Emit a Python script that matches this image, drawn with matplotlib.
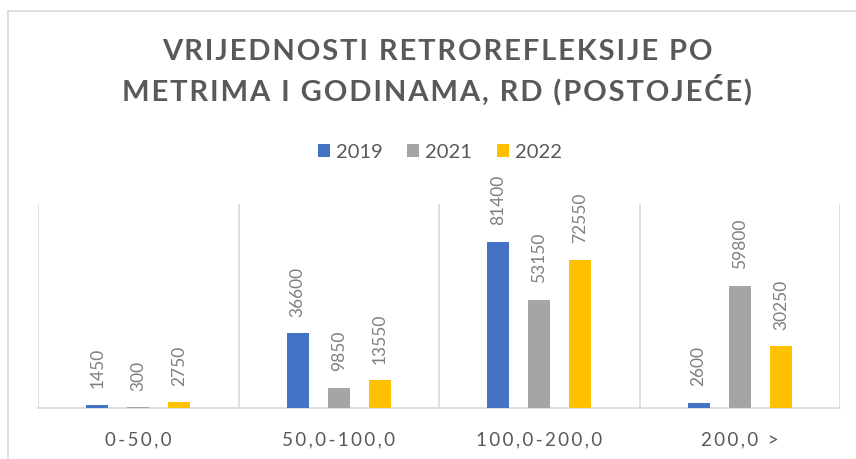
import matplotlib
matplotlib.use("Agg")
import matplotlib.pyplot as plt
import numpy as np
from matplotlib.patches import Rectangle

categories = ["0-50,0", "50,0-100,0", "100,0-200,0", "200,0 >"]
series_names = ["2019", "2021", "2022"]
values_2019 = [1450, 36600, 81400, 2600]
values_2021 = [300, 9850, 53150, 59800]
values_2022 = [2750, 13550, 72550, 30250]
title_lines = ["VRIJEDNOSTI RETROREFLEKSIJE PO", "METRIMA I GODINAMA, RD (POSTOJEĆE)"]

colors = ["#4472C4", "#A5A5A5", "#FFC000"]
text_gray = "#595959"
label_gray = "#7F7F7F"
grid_gray = "#D9D9D9"
fam = ["Lato", "DejaVu Sans"]


def spaced(s, sep="\u200a"):
    # widen tracking by placing a hair space between characters
    return sep.join(s)


W, H = 856, 459
fig = plt.figure(figsize=(W / 100, H / 100), dpi=100)

# chart-area frame
fig.patches.append(Rectangle((8 / W, -0.1), 1.2, 1 - 11 / H + 0.1,
                             transform=fig.transFigure, fill=False,
                             edgecolor=grid_gray, linewidth=1.2))

ax = fig.add_axes([38 / W, (H - 408) / H, (840 - 38) / W, (408 - 204) / H])

x = np.arange(len(categories))
bw = 0.11
step = 0.205
series = [values_2019, values_2021, values_2022]
bars = []
for i, (vals, c, name) in enumerate(zip(series, colors, series_names)):
    b = ax.bar(x + (i - 1) * step, vals, width=bw, color=c, label=name, zorder=3)
    bars.append(b)
    for xi, v in zip(x + (i - 1) * step, vals):
        ax.annotate(str(v), (xi, v), xytext=(0, 12), textcoords="offset points",
                    rotation=90, ha="center", va="bottom", color=label_gray,
                    fontsize=12.5, family=fam)

ax.set_xlim(-0.5, len(categories) - 0.5)
ax.set_ylim(0, 100000)
for b in np.arange(len(categories) + 1) - 0.5:
    ax.axvline(b, color=grid_gray, linewidth=1.2, zorder=1)
for s in ["top", "left", "right"]:
    ax.spines[s].set_visible(False)
ax.spines["bottom"].set_color(grid_gray)
ax.spines["bottom"].set_linewidth(1.2)
ax.set_yticks([])
ax.set_xticks(x)
ax.set_xticklabels([spaced(c, "\u2009") for c in categories], color=text_gray,
                   fontsize=13.5, family=fam)
ax.tick_params(axis="x", length=0, pad=17)

for line, yc in zip(title_lines, [52, 90]):
    fig.text(437 / W, 1 - yc / H, spaced(line), ha="center", va="center",
             fontsize=21, fontweight="bold", color=text_gray, family=fam)

fig.legend(handles=bars, labels=series_names, loc="center",
           bbox_to_anchor=(440 / W, 1 - 152 / H), ncol=3, frameon=False,
           handlelength=0.6, handleheight=0.6, handletextpad=0.3,
           columnspacing=1.2, prop={"family": fam, "size": 14.5},
           labelcolor=text_gray)

fig.savefig("out.png", dpi=100)
